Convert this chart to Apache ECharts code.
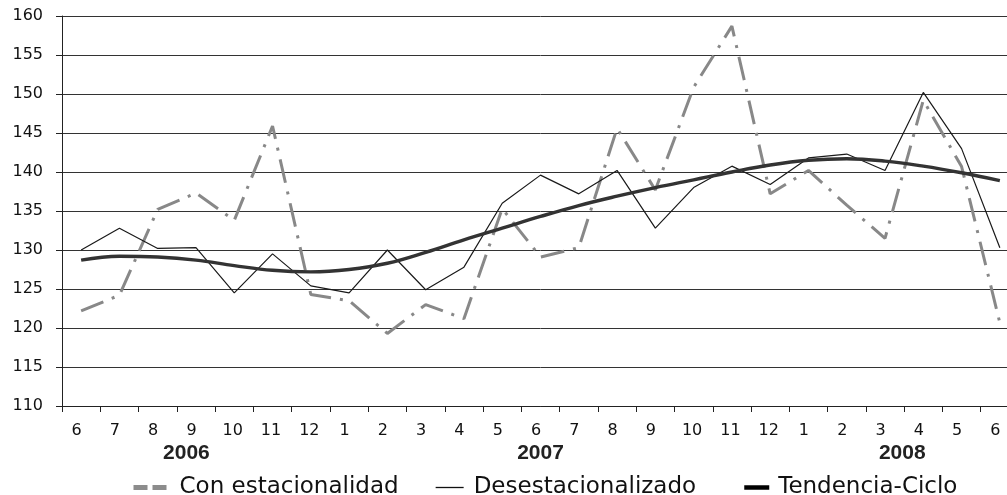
<!DOCTYPE html>
<html>
<head>
<meta charset="utf-8">
<script src="https://cdn.jsdelivr.net/npm/echarts@6/dist/echarts.min.js"></script>
<style>
  html, body { margin: 0; padding: 0; background: #fff; overflow: hidden; width: 1007px; height: 495px; }
  #chart { width: 1019px; height: 495px; }
</style>
</head>
<body>
<div id="chart"></div>
<script>
// ---- data ----
const categories = ['6','7','8','9','10','11','12','1','2','3','4','5','6','7','8','9','10','11','12','1','2','3','4','5','6'];
const years = ['2006', '2007', '2008'];
const yearPositions = [2.75, 12, 21.45]; // category index where each year label sits
const conEstacionalidad = [122.2, 124.2, 135.2, 137.3, 133.8, 145.9, 124.3, 123.5, 119.3, 123.0, 121.2, 135.3, 129.1, 130.3, 145.6, 137.7, 150.85, 158.7, 137.2, 140.2, 135.75, 131.5, 149.2, 140.7, 120.65];
const desestacionalizado = [130.0, 132.8, 130.2, 130.3, 124.5, 129.5, 125.4, 124.5, 130.0, 124.9, 127.8, 136.0, 139.6, 137.2, 140.2, 132.8, 138.0, 140.75, 138.4, 141.8, 142.3, 140.2, 150.2, 143.0, 130.3];
const tendenciaCiclo = [128.7, 129.2, 129.1, 128.7, 128.0, 127.4, 127.2, 127.5, 128.3, 129.7, 131.3, 132.8, 134.3, 135.7, 136.9, 138.0, 139.0, 140.0, 140.9, 141.5, 141.7, 141.4, 140.75, 139.9, 138.9];
const seriesNames = ['Con estacionalidad', 'Desestacionalizado', 'Tendencia-Ciclo'];
const yTicks = { min: 110, max: 160, interval: 5 };

const FONT = 'DejaVu Sans';
const chart = echarts.init(document.getElementById('chart'), null, { renderer: 'canvas' });

const legendBase = {
  orient: 'horizontal',
  top: 476,
  padding: 0,
  itemHeight: 14,
  textStyle: { fontFamily: FONT, fontSize: 23, color: '#111' }
};

chart.setOption({
  animation: false,
  backgroundColor: '#fff',
  grid: { left: 62, right: 0, top: 16, bottom: 89, containLabel: false },
  xAxis: {
    type: 'category',
    data: categories,
    boundaryGap: true,
    axisLine: { show: true, lineStyle: { color: '#222', width: 1 } },
    axisTick: { show: true, length: 6, interval: 0, lineStyle: { color: '#222' } },
    splitLine: { show: false },
    axisLabel: {
      interval: 0,
      margin: 17,
      formatter: v => (String(v).length > 1 ? '{d|' + v + '}' : '{s|' + v + '}'),
      rich: {
        s: { fontFamily: FONT, fontSize: 16, color: '#111', padding: [0, 9, 0, 0] },
        d: { fontFamily: FONT, fontSize: 16, color: '#111', padding: [0, 3, 0, 0] }
      }
    }
  },
  yAxis: {
    type: 'value',
    min: yTicks.min,
    max: yTicks.max,
    interval: yTicks.interval,
    axisLine: { show: true, lineStyle: { color: '#222', width: 1 } },
    axisTick: { show: true, length: 6, inside: false, lineStyle: { color: '#222' } },
    splitLine: { show: true, lineStyle: { color: '#333', width: 1 } },
    axisLabel: { margin: 19, fontFamily: FONT, fontSize: 16, color: '#111' }
  },
  legend: [
    Object.assign({}, legendBase, {
      left: 131, itemWidth: 34,
      data: [{ name: seriesNames[0], itemStyle: { opacity: 0 }, lineStyle: { type: [14, 5], width: 5, color: '#8c8c8c' } }],
      textStyle: Object.assign({}, legendBase.textStyle, { padding: [0, 0, 0, 7] })
    }),
    Object.assign({}, legendBase, {
      left: 435, itemWidth: 28,
      data: [{ name: seriesNames[1], itemStyle: { opacity: 0 }, lineStyle: { width: 1.3, color: '#111' } }],
      textStyle: Object.assign({}, legendBase.textStyle, { padding: [0, 0, 0, 5] })
    }),
    Object.assign({}, legendBase, {
      left: 742, itemWidth: 25,
      data: [{ name: seriesNames[2], itemStyle: { opacity: 0 }, lineStyle: { width: 4.5, color: '#000' } }],
      textStyle: Object.assign({}, legendBase.textStyle, { padding: [0, 0, 0, 4] })
    })
  ],
  series: [
    {
      name: seriesNames[0], type: 'line', data: conEstacionalidad,
      symbol: 'none', z: 2,
      lineStyle: { color: '#888', width: 3, type: [24, 9, 3, 9] },
      itemStyle: { color: '#888' }
    },
    {
      name: seriesNames[1], type: 'line', data: desestacionalizado,
      symbol: 'none', z: 3,
      lineStyle: { color: '#1a1a1a', width: 1.2 },
      itemStyle: { color: '#1a1a1a' }
    },
    {
      name: seriesNames[2], type: 'line', data: tendenciaCiclo,
      symbol: 'none', smooth: 0.4, z: 4,
      lineStyle: { color: '#333', width: 3.4 },
      itemStyle: { color: '#333' }
    }
  ]
});

// year labels placed through the category axis scale
function catToX(pos) {
  const lo = Math.floor(pos), hi = Math.ceil(pos);
  const xlo = chart.convertToPixel({ xAxisIndex: 0 }, lo);
  if (lo === hi) return xlo;
  const xhi = chart.convertToPixel({ xAxisIndex: 0 }, hi);
  return xlo + (xhi - xlo) * (pos - lo);
}
chart.setOption({
  graphic: years.map((y, i) => ({
    type: 'text',
    x: catToX(yearPositions[i]),
    y: 453,
    style: {
      text: y,
      fontFamily: 'Liberation Sans',
      fontWeight: 'bold',
      fontSize: 21,
      fill: '#222',
      align: 'center',
      verticalAlign: 'middle'
    }
  }))
});
</script>
</body>
</html>
